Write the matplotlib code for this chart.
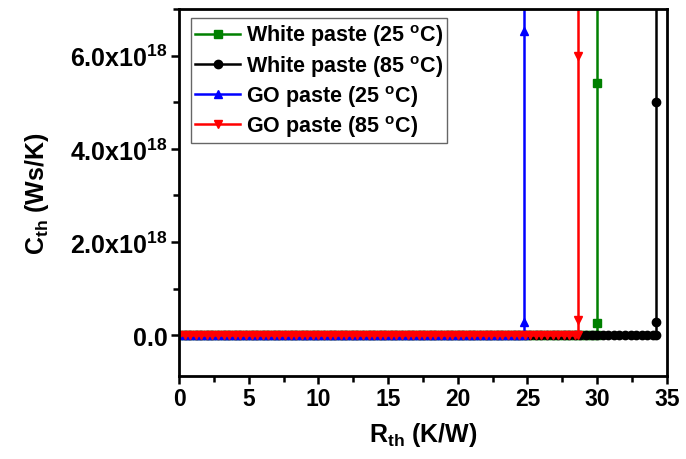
import matplotlib
matplotlib.use("Agg")
import matplotlib.pyplot as plt
from matplotlib.ticker import MultipleLocator, FixedLocator

plt.rcParams['font.family'] = 'Liberation Sans'
plt.rcParams['font.weight'] = 'bold'
plt.rcParams['mathtext.fontset'] = 'custom'
plt.rcParams['mathtext.rm'] = 'Liberation Sans:bold'
plt.rcParams['mathtext.bf'] = 'Liberation Sans:bold'
plt.rcParams['mathtext.it'] = 'Liberation Sans:bold'

# near-zero part of the structure functions (R_th in K/W)
R_zero = [0.0, 0.4, 0.8, 1.2, 1.6, 2.0, 2.4, 2.8, 3.2, 3.6, 4.0, 4.4, 4.8,
          5.2, 5.6, 6.0, 6.4, 6.8, 7.2, 7.6, 8.0, 8.4, 8.8, 9.2, 9.6, 10.0,
          10.4, 10.8, 11.2, 11.6, 12.0, 12.4, 12.8, 13.2, 13.6, 14.0, 14.4,
          14.8, 15.2, 15.6, 16.0, 16.4, 16.8, 17.2, 17.6, 18.0, 18.4, 18.8,
          19.2, 19.6, 20.0, 20.4, 20.8, 21.2, 21.6, 22.0, 22.4, 22.8, 23.2,
          23.6, 24.0, 24.4, 24.8, 25.2, 25.6, 26.0, 26.4, 26.8, 27.2, 27.6,
          28.0, 28.4, 28.8, 29.2, 29.6, 30.0, 30.4, 30.8, 31.2, 31.6, 32.0,
          32.4, 32.8, 33.2, 33.6, 34.0]

labels = ['White paste (25 $^{\\mathregular{o}}$C)',
          'White paste (85 $^{\\mathregular{o}}$C)',
          'GO paste (25 $^{\\mathregular{o}}$C)',
          'GO paste (85 $^{\\mathregular{o}}$C)']
colors = ['#008000', 'black', 'blue', 'red']
markers = ['s', 'o', '^', 'v']

# end of each curve where C_th diverges
R_end = [30.0, 34.25, 24.75, 28.6]
C_tail = [[0.26e18, 5.42e18, 3e19],
          [0.28e18, 5.01e18, 3e19],
          [0.28e18, 6.54e18, 3e19],
          [0.32e18, 6.0e18, 3e19]]

fig = plt.figure(figsize=(6.86, 4.60), dpi=100)
ax = fig.add_axes([0.261, 0.180, 0.711, 0.798])

for lab, col, mk, r_end, tail in zip(labels, colors, markers, R_end, C_tail):
    r_low = [r for r in R_zero if r < r_end]
    x = r_low + [r_end] * (len(tail) + 1)
    y = [0.0] * (len(r_low) + 1) + tail
    ax.plot(x, y, color=col, marker=mk, markersize=6, linewidth=1.8, label=lab)

ax.set_xlim(0, 35)
ax.set_ylim(-0.88e18, 7.0e18)
ax.xaxis.set_major_locator(MultipleLocator(5))
ax.xaxis.set_minor_locator(MultipleLocator(2.5))
ax.yaxis.set_major_locator(FixedLocator([0, 2e18, 4e18, 6e18]))
ax.yaxis.set_minor_locator(MultipleLocator(1e18))
ax.set_yticklabels(['0.0', '2.0x10$^{18}$', '4.0x10$^{18}$', '6.0x10$^{18}$'])

ax.tick_params(which='both', direction='out', top=False, right=False, width=1.8,
               labelsize=16.5, pad=2)
ax.tick_params(axis='y', labelsize=18)
ax.tick_params(which='major', length=6)
ax.tick_params(which='minor', length=4)
for s in ax.spines.values():
    s.set_linewidth(2)

ax.set_xlabel('R$_{\\mathregular{th}}$ (K/W)', fontsize=18, fontweight='bold', labelpad=7)
ax.set_ylabel('C$_{\\mathregular{th}}$ (Ws/K)', fontsize=18, fontweight='bold', labelpad=14)

leg = ax.legend(loc='upper left', bbox_to_anchor=(0.024, 0.975), fontsize=15.5,
                frameon=True, fancybox=False, edgecolor='#404040',
                handlelength=2.1, handletextpad=0.25, borderpad=0.2,
                borderaxespad=0, labelspacing=0.2)
leg.get_frame().set_linewidth(1.0)

fig.savefig('out.png', dpi=100)
